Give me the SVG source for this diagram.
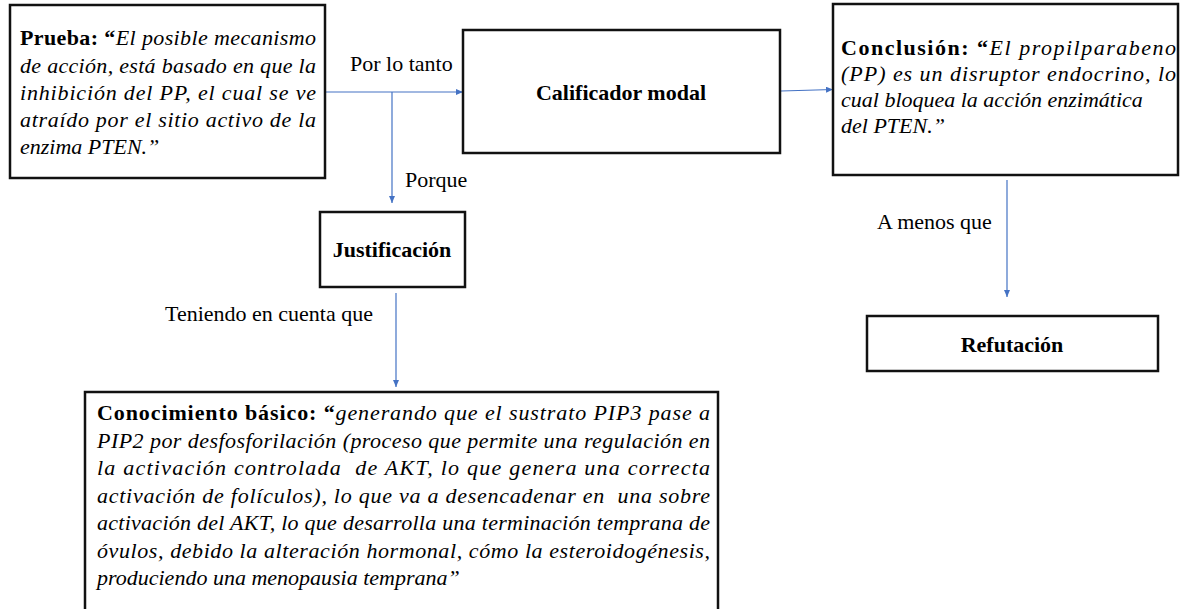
<svg xmlns="http://www.w3.org/2000/svg" width="1181" height="609" viewBox="0 0 1181 609">
<defs>
<marker id="arr" markerUnits="userSpaceOnUse" markerWidth="7" markerHeight="6" viewBox="0 0 7 6" refX="7" refY="3" orient="auto">
<path d="M0,0 L7,3 L0,6 z" fill="#4472C4"/>
</marker>
<style>
.box{fill:#fff;stroke:#111;stroke-width:2.5}
.t{font-family:'Liberation Serif','Times New Roman',Times,'DejaVu Serif',serif;font-size:22px;fill:#000}
.b{font-weight:bold}
.i{font-style:italic}
.c{text-anchor:middle}
.con{fill:none;stroke:#4472C4;stroke-width:1.2}
</style>
</defs>
<rect width="1181" height="609" fill="#fff"/>

<g id="connectors" font-family="'Liberation Serif', 'Times New Roman', serif">
<line class="con" x1="326" y1="92" x2="463" y2="92" marker-end="url(#arr)"/>
<line class="con" x1="392" y1="92" x2="392" y2="203" marker-end="url(#arr)"/>
<line class="con" x1="781" y1="91" x2="833" y2="89.5" marker-end="url(#arr)"/>
<line class="con" x1="396" y1="293" x2="396" y2="387" marker-end="url(#arr)"/>
<line class="con" x1="1007" y1="180" x2="1007" y2="297" marker-end="url(#arr)"/>
<text class="t" x="350" y="71">Por lo tanto</text>
<text class="t" x="405" y="187">Porque</text>
<text class="t" x="165" y="321">Teniendo en cuenta que</text>
<text class="t" x="877" y="229">A menos que</text>
</g>

<g id="prueba">
<rect class="box" x="10" y="5" width="315" height="173"/>
<text class="t" x="20" y="45" textLength="296" lengthAdjust="spacing"><tspan class="b">Prueba: “</tspan><tspan class="i">El posible mecanismo</tspan></text>
<text class="t i" x="20" y="72.5" textLength="296" lengthAdjust="spacing">de acción, está basado en que la</text>
<text class="t i" x="20" y="100" textLength="296" lengthAdjust="spacing">inhibición del PP, el cual se ve</text>
<text class="t i" x="20" y="127" textLength="296" lengthAdjust="spacing">atraído por el sitio activo de la</text>
<text class="t i" x="20" y="154">enzima PTEN.”</text>
</g>

<g id="calificador">
<rect class="box" x="463" y="30" width="317" height="123"/>
<text class="t b c" x="621" y="100">Calificador modal</text>
</g>

<g id="conclusion">
<rect class="box" x="833" y="4" width="345" height="171"/>
<text class="t" x="841" y="55" textLength="335" lengthAdjust="spacing"><tspan class="b">Conclusión: “</tspan><tspan class="i">El propilparabeno</tspan></text>
<text class="t i" x="841" y="81" textLength="335" lengthAdjust="spacing">(PP) es un disruptor endocrino, lo</text>
<text class="t i" x="841" y="107">cual bloquea la acción enzimática</text>
<text class="t i" x="841" y="133">del PTEN.”</text>
</g>

<g id="justificacion">
<rect class="box" x="320" y="212" width="145" height="75"/>
<text class="t b c" x="392" y="257">Justificación</text>
</g>

<g id="refutacion">
<rect class="box" x="867" y="316" width="291" height="55"/>
<text class="t b c" x="1012" y="352">Refutación</text>
</g>

<g id="conocimiento">
<rect class="box" x="85" y="392" width="633" height="260"/>
<text class="t" x="97" y="420" textLength="613" lengthAdjust="spacing"><tspan class="b">Conocimiento básico: “</tspan><tspan class="i">generando que el sustrato PIP3 pase a</tspan></text>
<text class="t i" x="97" y="447.5" textLength="613" lengthAdjust="spacing">PIP2 por desfosforilación (proceso que permite una regulación en</text>
<text class="t i" x="97" y="475" textLength="613" lengthAdjust="spacing">la activación controlada &#160;de AKT, lo que genera una correcta</text>
<text class="t i" x="97" y="502.5" textLength="613" lengthAdjust="spacing">activación de folículos), lo que va a desencadenar en &#160;una sobre</text>
<text class="t i" x="97" y="530" textLength="613" lengthAdjust="spacing">activación del AKT, lo que desarrolla una terminación temprana de</text>
<text class="t i" x="97" y="557.5" textLength="613" lengthAdjust="spacing">óvulos, debido la alteración hormonal, cómo la esteroidogénesis,</text>
<text class="t i" x="97" y="585">produciendo una menopausia temprana”</text>
</g>
</svg>
